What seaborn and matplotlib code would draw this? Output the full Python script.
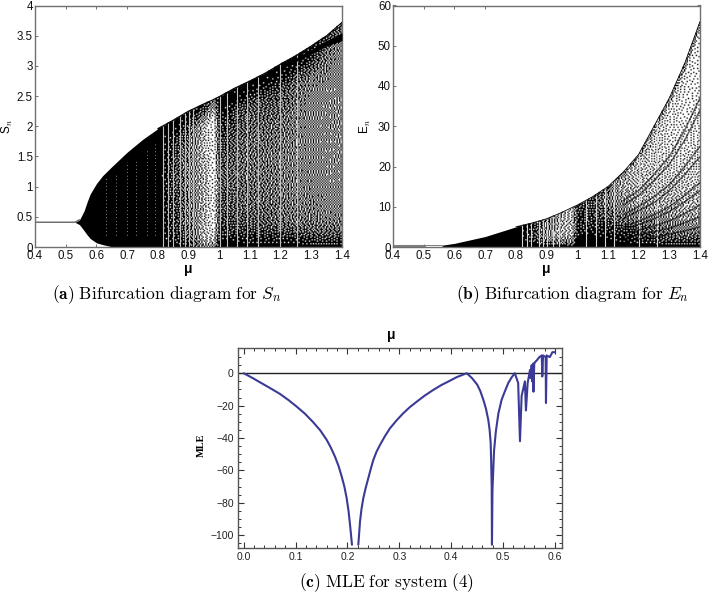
import numpy as np
import matplotlib
matplotlib.use('Agg')
import matplotlib.pyplot as plt
import seaborn as sns

# panel a: envelope of S_n
s_mu = [0.4, 0.53, 0.545, 0.56, 0.57, 0.58, 0.6, 0.62, 0.65, 0.7, 0.75, 0.8, 0.85, 0.9, 0.95, 0.98, 1.0,
        1.05, 1.1, 1.15, 1.2, 1.25, 1.3, 1.35, 1.4]
s_upper = [0.41, 0.41, 0.45, 0.6, 0.75, 0.88, 1.05, 1.18, 1.33, 1.57, 1.78, 1.96, 2.1, 2.25, 2.37, 2.44, 2.49,
           2.63, 2.75, 2.88, 3.03, 3.17, 3.33, 3.5, 3.72]
s_lower = [0.41, 0.41, 0.37, 0.27, 0.2, 0.14, 0.07, 0.04, 0.005, 0, 0, 0, 0, 0, 0, 0, 0,
           0, 0, 0, 0, 0, 0, 0, 0]
s_band_mu = [1.2, 1.25, 1.3, 1.35, 1.4]
s_band_low = [2.95, 3.07, 3.2, 3.33, 3.42]
s_band_high = [3.0, 3.13, 3.27, 3.42, 3.55]
s_stripes = [0.818, 0.834, 0.851, 0.872, 0.889, 0.9, 0.916, 1.003, 1.024, 1.057, 1.09, 1.127, 1.198, 1.252]
s_dots = [0.63, 0.665, 0.7, 0.73, 0.765, 0.79]
s_dots_top = [1.15, 1.2, 1.4, 1.45, 1.6, 1.7]

# share of black in the dotted area, columns are mu from 0.8 up, rows are parts of the envelope height
s_rows = [0, 0.04, 0.08, 0.15, 0.3, 0.5, 0.7, 0.85, 0.93, 1.0]
s_density = [
    [1, .95, .85, .55, .50, 1.0, .95, .92, .92, .92, .95, .88, .88, .88],
    [1, .90, .80, .40, .35, .95, .95, .88, .88, .88, .88, .80, .75, .80],
    [1, .85, .70, .30, .25, .85, .85, .80, .78, .75, .70, .66, .62, .62],
    [1, .80, .65, .30, .15, .80, .72, .68, .65, .60, .57, .57, .52, .52],
    [1, .80, .60, .35, .15, .75, .65, .62, .60, .57, .52, .52, .48, .48],
    [1, .75, .55, .35, .12, .70, .62, .60, .57, .55, .52, .50, .48, .46],
    [1, .75, .60, .30, .12, .80, .68, .62, .62, .60, .55, .50, .48, .48],
    [1, .85, .70, .30, .12, .90, .78, .68, .72, .72, .62, .55, .55, .50],
    [1, .95, .85, .60, .35, 1.0, .95, .90, .90, .90, .85, .80, .60, .50],
    [1, 1.0, 1.0, .90, .60, 1.0, 1.0, 1.0, 1.0, 1.0, 1.0, .90, .80, .70],
]

# panel b: same idea for E_n
e_mu = [0.56, 0.6, 0.7, 0.8, 0.85, 0.9, 0.95, 0.98, 1.0, 1.05, 1.1, 1.15, 1.2, 1.25, 1.3, 1.35, 1.4]
e_upper = [0.45, 0.9, 2.6, 5.0, 5.9, 7.0, 8.6, 9.7, 10.4, 12.5, 15, 18.6, 23, 30, 37, 45.6, 56]
e_flat_mu = [0.4, 0.5]
e_flat = [0.3, 0.3]
e_thin_mu = [0.5, 0.56]
e_thin = [0.55, 0.55]
e_stripes = [0.82, 0.835, 0.85, 0.875, 0.89, 0.9, 0.92, 0.94, 1.03, 1.06, 1.09, 1.12, 1.2, 1.26]
e_rows = [0, 0.1, 0.2, 0.3, 0.5, 0.7, 0.85, 0.95, 1.0]
e_density = [
    [1, 1.0, 1.0, .95, .90, 1.0, 1.0, 1.0, .95, .95, .95, .90, .90, .90],
    [1, .95, .75, .70, .60, 1.0, 1.0, .95, .90, .85, .70, .60, .50, .45],
    [1, .90, .70, .55, .45, 1.0, .95, .90, .85, .70, .55, .45, .35, .30],
    [1, .85, .60, .40, .35, .90, .90, .85, .70, .55, .40, .35, .30, .25],
    [1, .80, .50, .35, .30, .80, .80, .70, .50, .35, .30, .25, .20, .20],
    [1, .85, .55, .35, .30, .85, .75, .55, .40, .30, .25, .20, .15, .15],
    [1, .85, .60, .35, .30, .80, .70, .55, .35, .30, .25, .20, .15, .12],
    [1, .85, .60, .40, .30, .80, .75, .60, .40, .35, .30, .25, .20, .15],
    [1, .90, .70, .60, .50, .90, .85, .80, .70, .70, .70, .70, .70, .70],
]
e_band_mu = [1.15, 1.2, 1.25, 1.3, 1.35, 1.4]
e_bands = [
    [11.5, 14, 18, 22.5, 29, 37],
    [10.5, 12.8, 16.5, 20.5, 26.5, 34],
    [8, 10, 12.5, 15.5, 20, 25],
    [7, 9, 11, 14, 18, 22.4],
    [5, 6.4, 8, 10, 12.8, 16],
    [4.5, 5.6, 7, 8.8, 11.2, 14],
    [3.4, 4.2, 5.2, 6.5, 8.3, 10.4],
    [2.4, 3, 3.8, 4.7, 6, 7.5],
    [1.6, 2, 2.5, 3.2, 4, 5],
]

# panel c: MLE curve, two pieces because of the gap at the first dip
mle_mu_left = [0, .018, .0314, .05, .07, .086, .102, .118, .134, .148, .16, .168, .176, .183, .189, .194, .1985,
               .202, .205, .2087]
mle_left = [0, -3.1, -5.6, -9, -12.8, -16.5, -20.6, -25, -30.3, -35.5, -41.2, -46, -51.6, -57.5, -64, -70, -77.3,
            -85, -93.8, -106]
mle_mu_right = [.2209, .2225, .2241, .227, .2305, .235, .24, .245, .2498, .256, .2627, .272, .282, .295, .3076, .32,
                .3334, .349, .3654, .381, .3976, .41, .4265, .43,
                .44, .45, .456, .462, .467, .4715, .474, .476, .477, .478, .4785, .4795, .481, .4825, .486, .4908,
                .497, .5036, .51, .5165, .5226, .529, .5325, .5357,
                .542, .544, .5473, .5518, .553, .555, .556, .558, .5585, .56, .562, .565, .57, .5745, .5755, .577,
                .582, .5826, .584, .59, .595, .6]
mle_right = [-106, -99, -91.8, -84, -77.3, -71, -65, -59, -53.6, -48.5, -44.3, -39, -34, -29, -24.7, -21,
             -17.6, -13.8, -10.3, -7.3, -4.6, -2.5, -0.4, 0,
             -3, -7, -11, -16.5, -22, -29, -35, -43, -55, -70, -106, -72, -60, -48, -36, -25,
             -16.5, -11, -6, -2.5, 0, -6, -42, -14,
             -5, -23, -6, 2, -3, 5, -5, 6, -11.4, 6, 7, 8, 10, 11, -2, 11,
             10, -18.4, 11, 10, 13, 13]

W, H = 709, 593
sns.set_theme(style='white')
plt.rcParams['font.family'] = ['Liberation Sans', 'DejaVu Sans']
plt.rcParams['mathtext.fontset'] = 'cm'
GRAY = '#707070'


def px_axes(fig, left, top, right, bottom):
    return fig.add_axes([left / W, 1 - bottom / H, (right - left) / W, (bottom - top) / H])


def style_bif(ax, ymax, yticks, ylabels, ylabel, ylabel_x):
    ax.set_xlim(0.4, 1.4)
    ax.set_ylim(0, ymax)
    ax.set_xticks(np.arange(4, 15) / 10)
    ax.set_xticklabels(['0.4', '0.5', '0.6', '0.7', '0.8', '0.9', '1', '1.1', '1.2', '1.3', '1.4'])
    ax.set_yticks(yticks)
    ax.set_yticklabels(ylabels)
    ax.tick_params(direction='in', length=2.5, width=0.7, color=GRAY, labelsize=8.3, pad=1.5,
                   top=True, right=True, bottom=True, left=True, labelcolor='#111111')
    ax.tick_params(axis='x', pad=2)
    for sp in ax.spines.values():
        sp.set_color(GRAY)
        sp.set_linewidth(1.0)
    ax.set_xlabel('μ', fontweight='bold', fontsize=10, labelpad=0, color='black')
    ax.set_ylabel(ylabel, fontsize=8.5, color='black')
    ax.yaxis.set_label_coords(ylabel_x, 0.5)


def diffuse(shade):
    # error diffusion halftone, row by row in alternating direction
    work = shade.copy()
    ny, nx = work.shape
    out = np.zeros((ny, nx))
    for j in range(ny):
        step = 1 if j % 2 == 0 else -1
        order = range(nx) if step == 1 else range(nx - 1, -1, -1)
        for i in order:
            old = work[j, i]
            new = 1.0 if old >= 0.5 else 0.0
            out[j, i] = new
            err = old - new
            if 0 <= i + step < nx:
                work[j, i + step] += err * 7 / 16
            if j + 1 < ny:
                if 0 <= i - step < nx:
                    work[j + 1, i - step] += err * 3 / 16
                work[j + 1, i] += err * 5 / 16
                if 0 <= i + step < nx:
                    work[j + 1, i + step] += err * 1 / 16
    return out


def draw_bif(ax, mu, upper, lower, rows, density, stripes, stripe_color, ymax, edge):
    ax.fill_between(mu, lower, upper, color='black', lw=0)
    start = mu.index(0.8)
    table = np.array(density)
    # the part of the axes from mu = 0.8 on, about 184 px wide and 241 px high, in cells of 1.3 px
    nx, ny = 141, 185
    cols = np.linspace(0.8, 1.4, nx)
    ys = (np.arange(ny) + 0.5) / ny * ymax
    tops = np.interp(cols, mu, upper)
    across = np.array([np.interp(cols, mu[start:], row) for row in table])
    shade = np.zeros((ny, nx))
    for i in range(nx):
        shade[:, i] = np.interp(ys / tops[i], rows, across[:, i], right=0)
    ax.imshow(1 - diffuse(shade), cmap='gray', vmin=0, vmax=1, origin='lower', aspect='auto',
              extent=(0.8, 1.4, 0, ymax), interpolation='bilinear', zorder=1)
    ax.vlines(stripes, 0, np.interp(stripes, mu, upper), color=stripe_color, lw=0.8, zorder=2)
    sns.lineplot(x=mu[start:], y=upper[start:], ax=ax, color='black', lw=edge, estimator=None, sort=False, zorder=3)


fig = plt.figure(figsize=(W / 100, H / 100), dpi=100)

# (a)
ax_a = px_axes(fig, 35, 5.5, 342, 247)
draw_bif(ax_a, s_mu, s_upper, s_lower, s_rows, s_density, s_stripes, '#c4c4c4', 4, 0.8)
ax_a.fill_between(s_band_mu, s_band_low, s_band_high, color='black', lw=0, zorder=3)
ax_a.vlines(s_dots, 0.2, s_dots_top, color='white', lw=0.5, linestyles=(0, (1, 4)), zorder=2)
sns.lineplot(x=s_mu[:3], y=s_upper[:3], ax=ax_a, color='#707070', lw=1.1, estimator=None, sort=False)
style_bif(ax_a, 4, [0, .5, 1, 1.5, 2, 2.5, 3, 3.5, 4], ['0', '0.5', '1', '1.5', '2', '2.5', '3', '3.5', '4'],
          'S$_n$', -0.065)

# (b)
ax_b = px_axes(fig, 393, 5.5, 700, 247)
draw_bif(ax_b, e_mu, e_upper, np.zeros(len(e_mu)), e_rows, e_density, e_stripes, '#d8d8d8', 60, 0.6)
for band in e_bands:
    sns.lineplot(x=e_band_mu, y=band, ax=ax_b, color='black', lw=1.1, alpha=0.6, estimator=None, sort=False, zorder=3)
sns.lineplot(x=e_flat_mu, y=e_flat, ax=ax_b, color='#808080', lw=2.2, estimator=None, sort=False)
sns.lineplot(x=e_thin_mu, y=e_thin, ax=ax_b, color='#808080', lw=0.7, estimator=None, sort=False)
style_bif(ax_b, 60, [0, 10, 20, 30, 40, 50, 60], ['0', '10', '20', '30', '40', '50', '60'], 'E$_n$', -0.065)

# (c)
ax_c = px_axes(fig, 238, 348, 562, 548)
ax_c.axhline(0, color='#222222', lw=1.0)
sns.lineplot(x=mle_mu_left, y=mle_left, ax=ax_c, color='#3b3a96', lw=1.5, estimator=None, sort=False)
sns.lineplot(x=mle_mu_right, y=mle_right, ax=ax_c, color='#3b3a96', lw=1.5, estimator=None, sort=False)
ax_c.set_xlim(-0.011, 0.6135)
ax_c.set_ylim(-108, 15.6)
ax_c.set_xticks([0, .1, .2, .3, .4, .5, .6])
ax_c.set_xticklabels(['0.0', '0.1', '0.2', '0.3', '0.4', '0.5', '0.6'])
ax_c.set_xticks(np.arange(0, 31) / 50, minor=True)
ax_c.set_yticks([0, -20, -40, -60, -80, -100])
ax_c.set_yticklabels(['0', '−20', '−40', '−60', '−80', '−100'])
ax_c.set_yticks(np.arange(-105, 15, 5), minor=True)
ax_c.tick_params(which='major', direction='in', length=4, width=0.8, color='#333333', labelsize=7.5, pad=3,
                 top=True, right=True, bottom=True, left=True, labelcolor='#222222')
ax_c.tick_params(which='minor', direction='in', length=2, width=0.7, color='#333333',
                 top=True, right=True, bottom=True, left=True)
for sp in ax_c.spines.values():
    sp.set_color('#555555')
    sp.set_linewidth(1.0)
fig.text(391 / W, 1 - 335 / H, 'μ', fontweight='bold', fontsize=10, ha='center', va='center', color='black')
fig.text(201 / W, 1 - 445 / H, 'MLE', fontweight='bold', fontsize=7.5, family='Liberation Serif', rotation=90,
         ha='center', va='center', color='black')

# captions
fig.text(167 / W, 1 - 295 / H, r'$\mathbf{(a)}\ \mathrm{Bifurcation\ diagram\ for}\ S_n$', fontsize=12.5,
         ha='center', va='center', color='black')
fig.text(572 / W, 1 - 295 / H, r'$\mathbf{(b)}\ \mathrm{Bifurcation\ diagram\ for}\ E_n$', fontsize=12.5,
         ha='center', va='center', color='black')
fig.text(387 / W, 1 - 583 / H, r'$\mathbf{(c)}\ \mathrm{MLE\ for\ system\ (4)}$', fontsize=12.5,
         ha='center', va='center', color='black')

fig.savefig('out.png', dpi=100)
